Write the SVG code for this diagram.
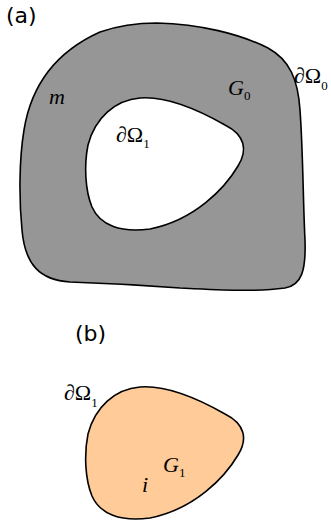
<svg xmlns="http://www.w3.org/2000/svg" xmlns:xlink="http://www.w3.org/1999/xlink" width="331" height="526" viewBox="0 0 331 526">
<style>
.lbl{font-family:"DejaVu Sans","Liberation Sans",sans-serif;font-size:22px;fill:#000}
.m{font-family:"Liberation Serif","Times New Roman",serif;font-size:22px;fill:#000}
.it{font-style:italic}
.sub{font-size:13px}
.edge{stroke:#000;stroke-width:1.6;stroke-linejoin:round}
</style>
<defs>
<path id="blob" d="M 140,98 C 165,96 195,108 225,125 C 245,135 248,150 238,166 C 225,188 195,220 150,229 C 120,233 100,225 92,207 C 85,190 84,165 88,145 C 95,118 115,100 140,98 Z"/>
</defs>
<rect width="331" height="526" fill="#fff"/>
<g id="region-a">
<path id="outer" class="edge" fill="#969696" d="M 157,23 C 200,24 240,34 268,48 C 290,60 298,80 300,110 C 303,150 303,200 305,240 C 306,270 302,285 285,288 C 255,292 220,290 180,288 C 140,285 100,283 70,282 C 40,280 25,265 22,230 C 19,200 19,160 24,130 C 32,80 60,50 100,32 C 120,25 140,23 157,23 Z"/>
<use id="hole" xlink:href="#blob" href="#blob" class="edge" fill="#fff"/>
<text class="lbl" x="6" y="23">(a)</text>
<text class="m it" x="49" y="104" font-size="24">m</text>
<text class="m" x="228" y="95"><tspan class="it">G</tspan><tspan class="sub" dy="5">0</tspan></text>
<text class="m" x="294" y="83">∂Ω<tspan class="sub" dy="7">0</tspan></text>
<text class="m" x="116" y="142">∂Ω<tspan class="sub" dy="6">1</tspan></text>
</g>
<g id="region-b">
<use id="inclusion" xlink:href="#blob" href="#blob" transform="translate(0,289)" class="edge" fill="#ffcc99"/>
<text class="lbl" x="75" y="341">(b)</text>
<text class="m" x="64" y="400">∂Ω<tspan class="sub" dy="7">1</tspan></text>
<text class="m" x="163" y="472"><tspan class="it">G</tspan><tspan class="sub" dy="5">1</tspan></text>
<text class="m it" x="142" y="492">i</text>
</g>
<g id="connectors"/>
</svg>
